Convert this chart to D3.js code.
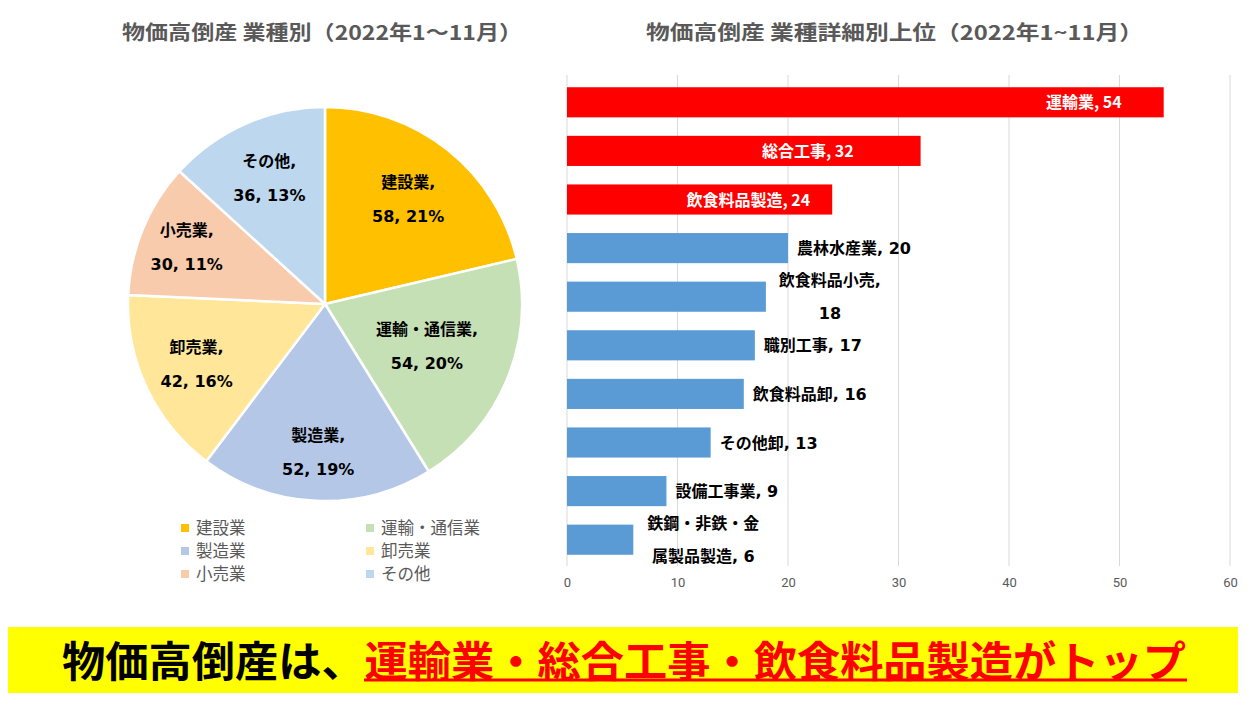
<!DOCTYPE html>
<html><head><meta charset="utf-8">
<script src="https://cdn.jsdelivr.net/npm/d3@7"></script>
<style>
html,body{margin:0;padding:0;background:#fff;}
svg{display:block;font-family:"Noto Sans CJK JP","Noto Sans",sans-serif;}
</style></head>
<body>
<svg id="c" width="1251" height="708"></svg>
<script>
// ---- data ----
const pieCategories = ["建設業","運輸・通信業","製造業","卸売業","小売業","その他"];
const pieValues = [58,54,52,42,30,36];
const piePercents = ["21%","20%","19%","16%","11%","13%"];
const pieColors = ["#FFC000","#C5E0B4","#B4C7E7","#FFE699","#F8CBAD","#BDD7EE"];

const barCategories = ["運輸業","総合工事","飲食料品製造","農林水産業","飲食料品小売","職別工事","飲食料品卸","その他卸","設備工事業","鉄鋼・非鉄・金属製品製造"];
const barValues = [54,32,24,20,18,17,16,13,9,6];
const barHighlight = [true,true,true,false,false,false,false,false,false,false];
const xTicks = [0,10,20,30,40,50,60];

const pieTitle = "物価高倒産 業種別（2022年1～11月）";
const barTitle = "物価高倒産 業種詳細別上位（2022年1~11月）";
const bannerBlack = "物価高倒産は、";
const bannerRed = "運輸業・総合工事・飲食料品製造がトップ";

// ---- drawing ----
const svg = d3.select("#c");
const gray = "#595959";
const labelFont = "'DejaVu Sans','Noto Sans CJK JP',sans-serif";

// titles
svg.append("text").attr("x",122).attr("y",40)
  .attr("font-size",20).attr("font-weight","bold").attr("fill",gray)
  .attr("textLength",400).attr("lengthAdjust","spacingAndGlyphs").text(pieTitle);
svg.append("text").attr("x",646).attr("y",40)
  .attr("font-size",20).attr("font-weight","bold").attr("fill",gray)
  .attr("textLength",497).attr("lengthAdjust","spacingAndGlyphs").text(barTitle);

// pie
const cx=325, cy=304, R=197;
const pieData = pieCategories.map((c,i)=>({cat:c,value:pieValues[i],pct:piePercents[i],color:pieColors[i]}));
const pie = d3.pie().value(d=>d.value).sort(null);
const arcs = pie(pieData);
const arc = d3.arc().innerRadius(0).outerRadius(R);
const gp = svg.append("g").attr("transform",`translate(${cx},${cy})`);
gp.selectAll("path").data(arcs).join("path")
  .attr("d",arc).attr("fill",d=>d.data.color)
  .attr("stroke","#fff").attr("stroke-width",2.5).attr("stroke-linejoin","round");
const labelR = [0.68,0.56,0.75,0.72,0.76,0.70];
arcs.forEach((a,i)=>{
  const ang=(a.startAngle+a.endAngle)/2;
  const r=R*labelR[i];
  const x=Math.sin(ang)*r, y=-Math.cos(ang)*r;
  const t=gp.append("text").attr("text-anchor","middle").attr("font-size",16)
    .attr("font-family",labelFont).attr("font-weight","bold").attr("fill","#000");
  t.append("tspan").attr("x",x).attr("y",y-11).text(a.data.cat+",");
  t.append("tspan").attr("x",x).attr("y",y+23).text(a.data.value+", "+a.data.pct);
});

// legend
const lg = svg.append("g");
pieData.forEach((d,i)=>{
  const col=i%2, row=Math.floor(i/2);
  const x = col===0?181:366, y=528+row*23;
  lg.append("rect").attr("x",x).attr("y",y-4).attr("width",8).attr("height",8).attr("fill",d.color);
  lg.append("text").attr("x",x+15).attr("y",y+6).attr("font-size",16.5).attr("fill",gray).text(d.cat);
});

// bar chart
const bx0=567, bx1=1230, by0=78, by1=564;
const x = d3.scaleLinear().domain([0,60]).range([bx0,bx1]);
const y = d3.scaleBand().domain(barCategories).range([by0,by1]).paddingInner(0.38).paddingOuter(0.19);
const gb = svg.append("g");
gb.selectAll("line.grid").data(xTicks).join("line").attr("class","grid")
  .attr("x1",d=>x(d)).attr("x2",d=>x(d)).attr("y1",75).attr("y2",566)
  .attr("stroke","#D9D9D9").attr("stroke-width",1);
const xAxis = d3.axisBottom(x).tickValues(xTicks).tickSize(0).tickPadding(0);
const ax = gb.append("g").attr("transform",`translate(0,${575})`).call(xAxis);
ax.select(".domain").remove();
ax.selectAll("text").attr("font-size",13).attr("fill",gray).attr("font-family","Roboto,'Noto Sans',sans-serif").attr("dy","0.9em");

gb.selectAll("rect.bar").data(barCategories).join("rect").attr("class","bar")
  .attr("x",x(0)).attr("y",d=>y(d)).attr("height",y.bandwidth())
  .attr("width",(d,i)=>x(barValues[i])-x(0))
  .attr("fill",(d,i)=>barHighlight[i]?"#FF0000":"#5B9BD5");

// bar labels
const insideInset = [42,67,22];
const wrapped = {"飲食料品小売":["飲食料品小売,","18"],"鉄鋼・非鉄・金属製品製造":["鉄鋼・非鉄・金","属製品製造, 6"]};
barCategories.forEach((c,i)=>{
  const v=barValues[i], cyb=y(c)+y.bandwidth()/2;
  if(barHighlight[i]){
    gb.append("text").attr("x",x(v)-insideInset[i]).attr("y",cyb+6).attr("text-anchor","end")
      .attr("font-size",16).attr("font-weight","bold").attr("fill","#fff").text(c+", "+v);
  } else if(wrapped[c]){
    const lines=wrapped[c];
    const t=gb.append("text").attr("text-anchor","middle").attr("font-size",16).attr("font-weight","bold").attr("fill","#000")
      .attr("font-family",labelFont);
    const xc = x(v)+ (i===4?64:70);
    t.append("tspan").attr("x",xc).attr("y",cyb-11).text(lines[0]);
    t.append("tspan").attr("x",xc).attr("y",cyb+22).text(lines[1]);
  } else {
    gb.append("text").attr("x",x(v)+9).attr("y",cyb+6).attr("text-anchor","start")
      .attr("font-family",labelFont)
      .attr("font-size",16).attr("font-weight","bold").attr("fill","#000").text(c+", "+v);
  }
});

// banner
svg.append("rect").attr("x",8).attr("y",627).attr("width",1230).attr("height",66).attr("fill","#FFFF00");
const bt = svg.append("text").attr("x",62).attr("y",677).attr("font-size",42).attr("font-weight","bold")
  .attr("textLength",1124).attr("lengthAdjust","spacingAndGlyphs");
bt.append("tspan").attr("fill","#000").text(bannerBlack);
bt.append("tspan").attr("fill","#FF0000").text(bannerRed);
svg.append("line").attr("x1",364).attr("x2",1187).attr("y1",680).attr("y2",680).attr("stroke","#FF0000").attr("stroke-width",3);
</script>
</body></html>
